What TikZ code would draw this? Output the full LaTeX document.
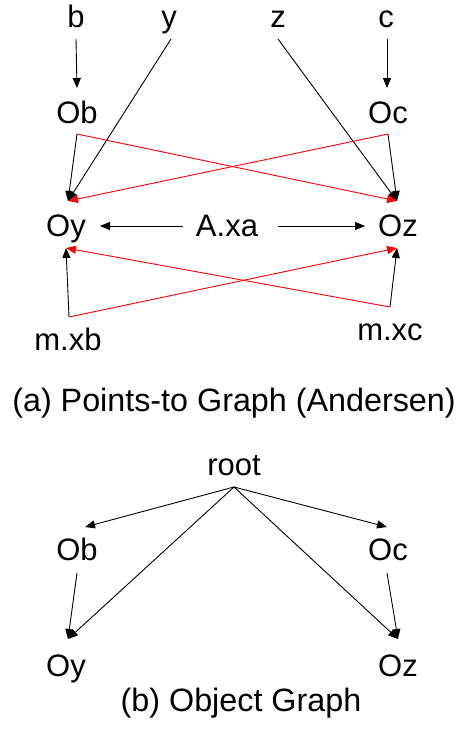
\documentclass[tikz,border=0pt]{standalone}
\usepackage{fontspec}
\setmainfont{Liberation Sans}
\usetikzlibrary{arrows.meta}
\begin{document}
\begin{tikzpicture}[x=1pt,y=-1pt,
  lbl/.style={anchor=base,inner sep=0pt,font=\fontsize{31}{37}\selectfont},
  captext/.style={anchor=base,inner sep=0pt,font=\fontsize{32.3}{38}\selectfont},
  blk/.style={draw=black,line width=0.9pt,-{Triangle[length=10pt,width=8pt]}},
  redl/.style={draw=red,line width=0.9pt,-{Triangle[length=10pt,width=8pt]}}]
\useasboundingbox (0,0) rectangle (458,729);
% ---- part (a) ----
\node[lbl] (b) at (76,27) {b};
\node[lbl] (y) at (169,27) {y};
\node[lbl] (z) at (278,27) {z};
\node[lbl] (c) at (386,27) {c};
\node[lbl] (Ob) at (77,123) {Ob};
\node[lbl] (Oc) at (388,123) {Oc};
\node[lbl] (Oy) at (66,236) {Oy};
\node[lbl] (Axa) at (227,236) {A.xa};
\node[lbl] (Oz) at (398,236) {Oz};
\node[lbl] (mxb) at (68,350) {m.xb};
\node[lbl] (mxc) at (390,340) {m.xc};
\node[captext] (capa) at (234,411) {(a) Points-to Graph (Andersen)};
% ports
\coordinate (bS) at (76,39);   \coordinate (ObN) at (77,88);
\coordinate (cS) at (387,39);  \coordinate (OcN) at (387,88);
\coordinate (yS) at (171,39);  \coordinate (zS) at (278,39);
\coordinate (ObS) at (77,134); \coordinate (OcS) at (388,134);
\coordinate (OyN) at (68,201); \coordinate (OzN) at (397,201);
\coordinate (AxaW) at (183,226); \coordinate (OyE) at (100,226);
\coordinate (AxaE) at (278,226); \coordinate (OzW) at (365,226);
\coordinate (OyS) at (66,248); \coordinate (OzS) at (397,248);
\coordinate (mxbN) at (69,317); \coordinate (mxcN) at (390,307);
\draw[blk] (bS) -- (ObN);
\draw[blk] (cS) -- (OcN);
\draw[blk] (yS) -- (OyN);
\draw[blk] (zS) -- (OzN);
\draw[blk] (ObS) -- (OyN);
\draw[blk] (OcS) -- (OzN);
\draw[redl] (ObS) -- (OzN);
\draw[redl] (OcS) -- (OyN);
\draw[blk] (AxaW) -- (OyE);
\draw[blk] (AxaE) -- (OzW);
\draw[blk] (mxbN) -- (OyS);
\draw[blk] (mxcN) -- (OzS);
\draw[redl] (mxbN) -- (OzS);
\draw[redl] (mxcN) -- (OyS);
% ---- part (b) ----
\node[lbl] (root) at (234,475) {root};
\node[lbl] (Ob2) at (77,560) {Ob};
\node[lbl] (Oc2) at (388,560) {Oc};
\node[lbl] (Oy2) at (66,676) {Oy};
\node[lbl] (Oz2) at (398,676) {Oz};
\node[captext] (capb) at (241,711) {(b) Object Graph};
\coordinate (rootS) at (234,487);
\coordinate (Ob2N) at (85,527); \coordinate (Oc2N) at (387,527);
\coordinate (Ob2S) at (77,573); \coordinate (Oc2S) at (387,573);
\coordinate (Oy2N) at (68,639); \coordinate (Oz2N) at (398,639);
\draw[blk] (rootS) -- (Ob2N);
\draw[blk] (rootS) -- (Oc2N);
\draw[blk] (rootS) -- (Oy2N);
\draw[blk] (rootS) -- (Oz2N);
\draw[blk] (Ob2S) -- (Oy2N);
\draw[blk] (Oc2S) -- (Oz2N);
\end{tikzpicture}
\end{document}
